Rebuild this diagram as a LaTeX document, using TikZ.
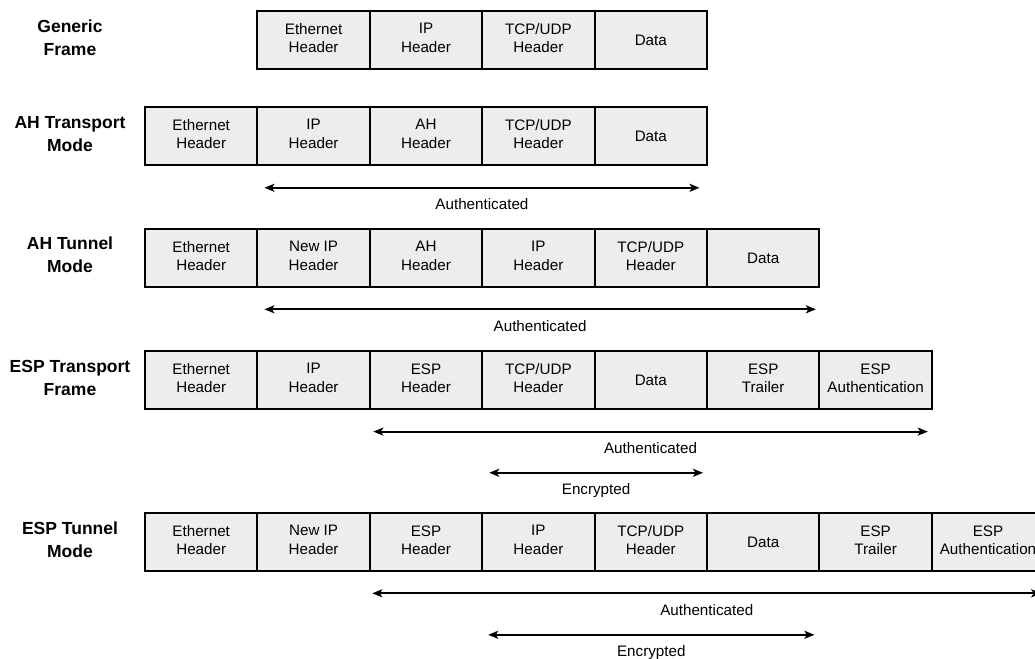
\documentclass[tikz,border=0pt]{standalone}
\usepackage{fontspec}
\setmainfont{Liberation Sans}
\usetikzlibrary{arrows.meta,calc}
\definecolor{cellfill}{HTML}{EDEDED}
\begin{document}
\begin{tikzpicture}[x=1pt,y=-1pt,
  cell/.style={draw=black, line width=2pt, fill=cellfill,
    minimum width=112.4pt, minimum height=58.6pt,
    inner sep=0pt, outer sep=0pt, align=center,
    font=\fontsize{15.2}{18.5}\selectfont},
  twoline/.style={execute at end node={\rule[-4pt]{0pt}{0pt}}},
  rowtitle/.style={align=center, inner sep=0pt,
    font=\fontsize{17.5}{23}\selectfont\bfseries},
  span/.style={{Stealth[length=10pt,width=8pt,inset=2.5pt]}-{Stealth[length=10pt,width=8pt,inset=2.5pt]},
    line width=1.9pt},
  spanlabel/.style={anchor=base, inner sep=0pt, yshift=-22pt,
    font=\fontsize{15.2}{18}\selectfont}
]
\useasboundingbox (0,0) rectangle (1035,658);
\clip (0,0) rectangle (1035,658);

% ---- Generic frame
\node[rowtitle] (t1) at (70,38) {Generic\\Frame};
\node[cell,twoline] (r1c2) at (313.6,40) {Ethernet\\Header};
\node[cell,twoline] (r1c3) at (426.0,40) {IP\\Header};
\node[cell,twoline] (r1c4) at (538.4,40) {TCP/UDP\\Header};
\node[cell]         (r1c5) at (650.8,40) {Data};

% ---- AH transport mode
\node[rowtitle] (t2) at (70,134) {AH Transport\\Mode};
\node[cell,twoline] (r2c1) at (201.2,136) {Ethernet\\Header};
\node[cell,twoline] (r2c2) at (313.6,136) {IP\\Header};
\node[cell,twoline] (r2c3) at (426.0,136) {AH\\Header};
\node[cell,twoline] (r2c4) at (538.4,136) {TCP/UDP\\Header};
\node[cell]         (r2c5) at (650.8,136) {Data};
\draw[span] ([xshift=7pt,yshift=-22.5pt]r2c2.south west) -- ([xshift=-7.5pt,yshift=-22.5pt]r2c5.south east)
  node[midway,spanlabel] (l2) {Authenticated};

% ---- AH tunnel mode
\node[rowtitle] (t3) at (70,255) {AH Tunnel\\Mode};
\node[cell,twoline] (r3c1) at (201.2,258) {Ethernet\\Header};
\node[cell,twoline] (r3c2) at (313.6,258) {New IP\\Header};
\node[cell,twoline] (r3c3) at (426.0,258) {AH\\Header};
\node[cell,twoline] (r3c4) at (538.4,258) {IP\\Header};
\node[cell,twoline] (r3c5) at (650.8,258) {TCP/UDP\\Header};
\node[cell]         (r3c6) at (763.2,258) {Data};
\draw[span] ([xshift=7pt,yshift=-22pt]r3c2.south west) -- ([xshift=-3.5pt,yshift=-22pt]r3c6.south east)
  node[midway,spanlabel] (l3) {Authenticated};

% ---- ESP transport frame
\node[rowtitle] (t4) at (70,378) {ESP Transport\\Frame};
\node[cell,twoline] (r4c1) at (201.2,380) {Ethernet\\Header};
\node[cell,twoline] (r4c2) at (313.6,380) {IP\\Header};
\node[cell,twoline] (r4c3) at (426.0,380) {ESP\\Header};
\node[cell,twoline] (r4c4) at (538.4,380) {TCP/UDP\\Header};
\node[cell]         (r4c5) at (650.8,380) {Data};
\node[cell,twoline] (r4c6) at (763.2,380) {ESP\\Trailer};
\node[cell,twoline] (r4c7) at (875.6,380) {ESP\\Authentication};
\draw[span] ([xshift=3.5pt,yshift=-22.3pt]r4c3.south west) -- ([xshift=-4pt,yshift=-22.3pt]r4c7.south east)
  node[midway,spanlabel] (l4a) {Authenticated};
\draw[span] ([xshift=7pt,yshift=-63.5pt]r4c4.south west) -- ([xshift=-4pt,yshift=-63.5pt]r4c5.south east)
  node[midway,spanlabel] (l4e) {Encrypted};

% ---- ESP tunnel mode
\node[rowtitle] (t5) at (70,540) {ESP Tunnel\\Mode};
\node[cell,twoline] (r5c1) at (201.2,542) {Ethernet\\Header};
\node[cell,twoline] (r5c2) at (313.6,542) {New IP\\Header};
\node[cell,twoline] (r5c3) at (426.0,542) {ESP\\Header};
\node[cell,twoline] (r5c4) at (538.4,542) {IP\\Header};
\node[cell,twoline] (r5c5) at (650.8,542) {TCP/UDP\\Header};
\node[cell]         (r5c6) at (763.2,542) {Data};
\node[cell,twoline] (r5c7) at (875.6,542) {ESP\\Trailer};
\node[cell,twoline] (r5c8) at (988.0,542) {ESP\\Authentication};
\draw[span] ([xshift=2.5pt,yshift=-22pt]r5c3.south west) -- ([xshift=-3pt,yshift=-22pt]r5c8.south east)
  node[midway,spanlabel] (l5a) {Authenticated};
\draw[span] ([xshift=6pt,yshift=-63.5pt]r5c4.south west) -- ([xshift=-5pt,yshift=-63.5pt]r5c6.south east)
  node[midway,spanlabel] (l5e) {Encrypted};
\end{tikzpicture}
\end{document}
